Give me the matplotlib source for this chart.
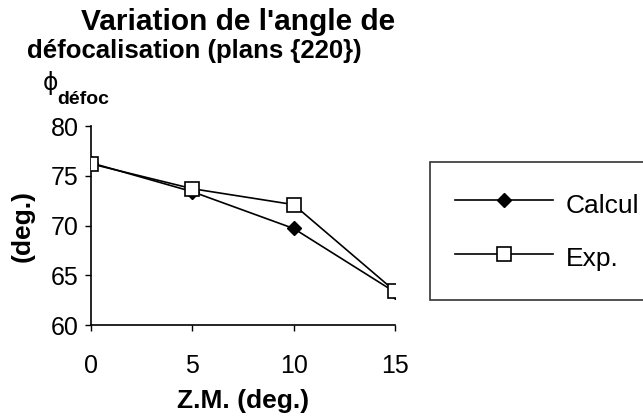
import matplotlib
matplotlib.use("Agg")
import matplotlib.pyplot as plt

# Defocusing angle versus zone-axis tilt, {220} planes
zm_deg = [0, 5, 10, 15]
calcul = [76.3, 73.4, 69.7, 63.3]
experience = [76.2, 73.7, 72.1, 63.4]
x_ticks = [0, 5, 10, 15]
y_ticks = [60, 65, 70, 75, 80]

plt.rcParams['font.family'] = ['Liberation Sans', 'DejaVu Sans']

fig = plt.figure(figsize=(6.43, 4.17), dpi=100)
ax = fig.add_axes([0.1415, 0.2206, 0.4728, 0.4772])

ax.plot(zm_deg, calcul, color='black', lw=1.2, marker='D', ms=7,
        mfc='black', mec='black', label='Calcul', zorder=3)
ax.plot(zm_deg, experience, color='black', lw=1.2, marker='s', ms=10,
        mfc='white', mec='black', mew=1.2, label='Exp.', zorder=4)

ax.set_xlim(0, 15)
ax.set_ylim(60, 80)
ax.set_xticks(x_ticks)
ax.set_yticks(y_ticks)
ax.tick_params(axis='both', direction='out', length=4, width=1, labelsize=18)
ax.tick_params(axis='x', pad=17)
ax.tick_params(axis='y', pad=5)
for side in ('top', 'right'):
    ax.spines[side].set_visible(False)
for side in ('left', 'bottom'):
    ax.spines[side].set_linewidth(1.2)
for lab in ax.get_xticklabels() + ax.get_yticklabels():
    lab.set_clip_on(False)

ax.set_xlabel('Z.M. (deg.)', fontsize=19, fontweight='bold', labelpad=8)
ax.set_ylabel('(deg.)', fontsize=19, fontweight='bold')
ax.yaxis.set_label_coords(-0.185, 0.5)

# Two-line title, lines offset like the original layout
fig.text(238 / 643, 1 - 22 / 417, "Variation de l'angle de", ha='center',
         va='center', fontsize=21.5, fontweight='bold')
fig.text(194 / 643, 1 - 51 / 417, "défocalisation (plans {220})", ha='center',
         va='center', fontsize=18.5, fontweight='bold')

# Quantity symbol above the y axis
fig.text(50 / 643, 1 - 83 / 417, "ϕ", ha='center', va='center', fontsize=17,
         family=['DejaVu Sans'])
fig.text(57 / 643, 1 - 99 / 417, "défoc", ha='left', va='center', fontsize=14,
         fontweight='bold')

leg = fig.legend(loc='upper left', bbox_to_anchor=(430 / 643, 1 - 162 / 417),
                 fontsize=19, handlelength=3.7, handleheight=1.6,
                 handletextpad=0.5, labelspacing=0.75, borderpad=0.95,
                 borderaxespad=0, fancybox=False, frameon=True)
leg.get_frame().set_edgecolor('black')
leg.get_frame().set_linewidth(1.2)

fig.savefig('out.png', dpi=100)
